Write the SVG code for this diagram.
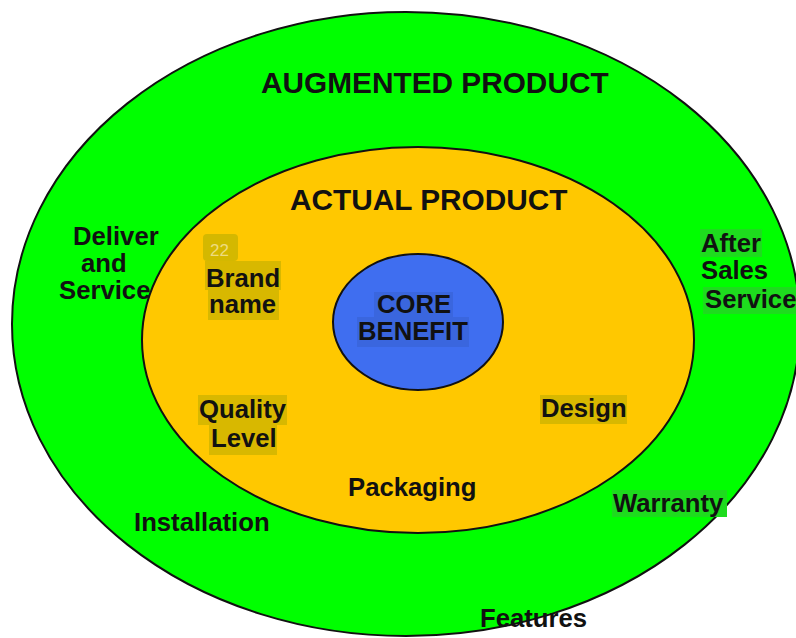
<svg xmlns="http://www.w3.org/2000/svg" width="796" height="638" viewBox="0 0 796 638">
<style>
  .ring { stroke: #111; stroke-width: 2; }
  .t { font-family: "Liberation Sans", Arial, sans-serif; font-weight: bold; fill: #111; }
  .title { font-size: 29.8px; }
  .lbl { font-size: 25.7px; }
  .hy { fill: #D8B800; }
  .hg { fill: #1EDC1E; }
  .hb { fill: #3A66DE; }
</style>
<rect width="796" height="638" fill="#ffffff"/>
<g id="connectors"></g>
<g id="augmented">
  <ellipse class="ring" cx="406" cy="324" rx="394" ry="312" fill="#00FF00"/>
  <text class="t title" x="261" y="93">AUGMENTED PRODUCT</text>
</g>
<g id="actual">
  <ellipse class="ring" cx="418" cy="340" rx="276" ry="193" fill="#FFC800"/>
  <text class="t title" x="290" y="210">ACTUAL PRODUCT</text>
</g>
<g id="core">
  <ellipse class="ring" cx="418" cy="322" rx="85" ry="68" fill="#3F6EF0"/>
  <rect class="hb" x="374" y="292" width="79" height="25"/>
  <rect class="hb" x="357" y="317" width="112" height="30"/>
  <text class="t lbl" x="377" y="313">CORE</text>
  <text class="t lbl" x="358" y="340">BENEFIT</text>
</g>
<g id="deliver">
  <text class="t lbl" x="73" y="245">Deliver</text>
  <text class="t lbl" x="81" y="272">and</text>
  <text class="t lbl" x="59" y="299">Service</text>
</g>
<g id="brand">
  <rect x="203" y="234" width="35" height="27" rx="4" fill="#D4B800"/>
  <text x="210" y="256" font-family="Liberation Sans, Arial, sans-serif" font-size="17" fill="#EEDC80">22</text>
  <rect class="hy" x="205" y="261" width="76" height="29"/>
  <rect class="hy" x="208" y="290" width="71" height="30"/>
  <text class="t lbl" x="206" y="287">Brand</text>
  <text class="t lbl" x="209" y="313">name</text>
</g>
<g id="quality">
  <rect class="hy" x="198" y="395" width="89" height="30"/>
  <rect class="hy" x="209" y="425" width="68" height="30"/>
  <text class="t lbl" x="199" y="418">Quality</text>
  <text class="t lbl" x="211" y="447">Level</text>
</g>
<g id="design">
  <rect class="hy" x="540" y="395" width="87" height="29"/>
  <text class="t lbl" x="541" y="417">Design</text>
</g>
<g id="aftersales">
  <rect class="hg" x="700" y="229" width="62" height="28"/>
  <rect class="hg" x="703" y="287" width="93" height="27"/>
  <text class="t lbl" x="701" y="252">After</text>
  <text class="t lbl" x="701" y="279">Sales</text>
  <text class="t lbl" x="705" y="308">Service</text>
</g>
<g id="packaging">
  <text class="t lbl" x="348" y="496">Packaging</text>
</g>
<g id="warranty">
  <rect class="hg" x="612" y="490" width="115" height="27"/>
  <text class="t lbl" x="613" y="512">Warranty</text>
</g>
<g id="installation">
  <text class="t lbl" x="134" y="531">Installation</text>
</g>
<g id="features">
  <text class="t lbl" x="480" y="627">Features</text>
</g>
</svg>
